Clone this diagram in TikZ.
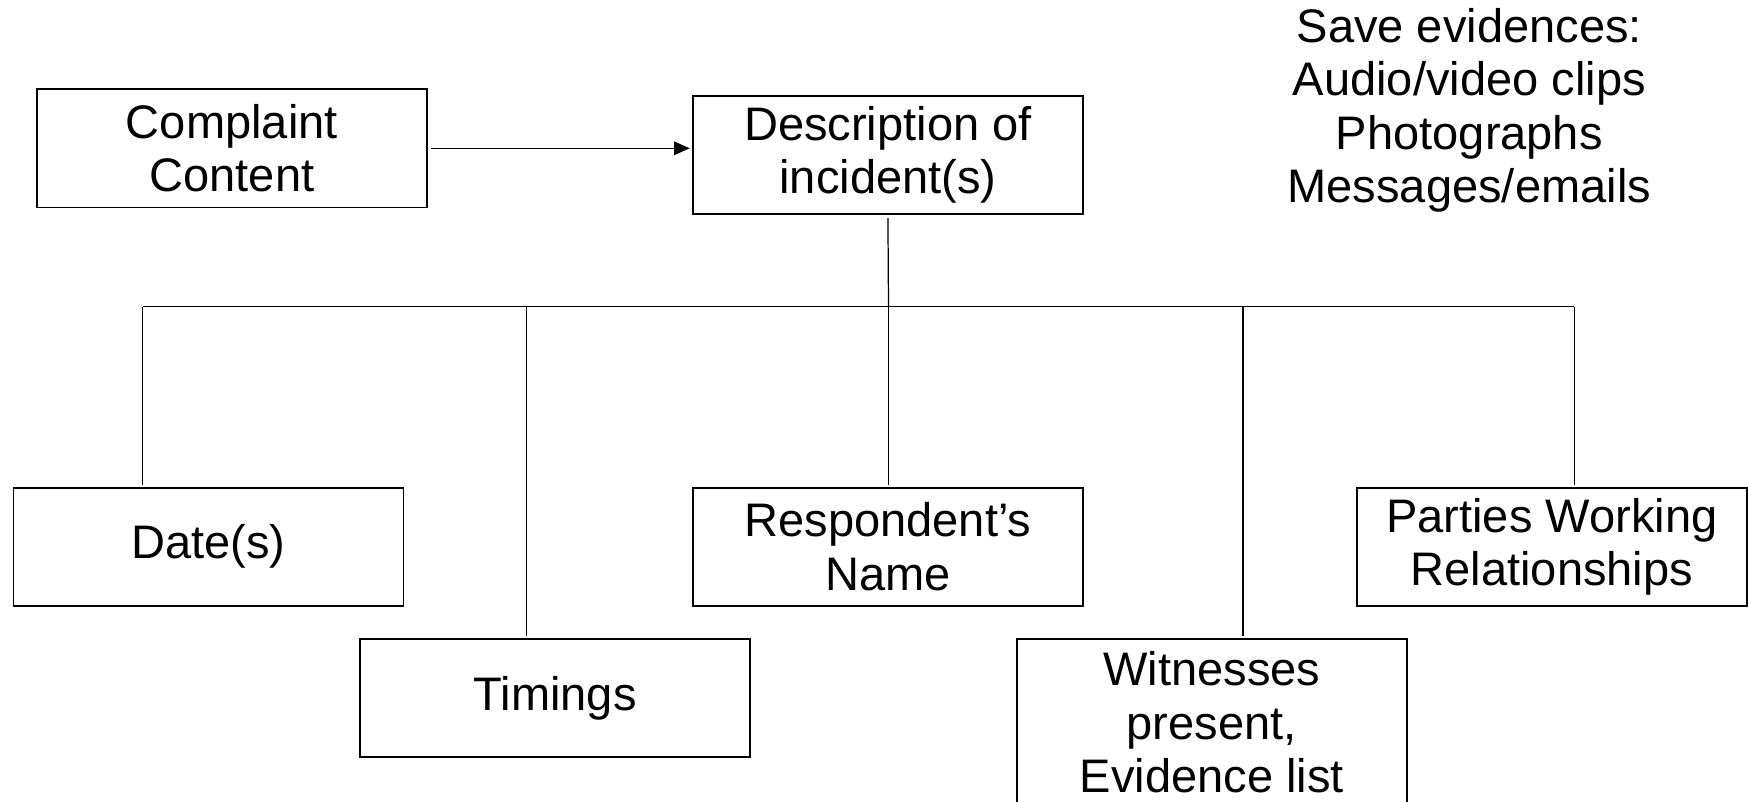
\documentclass[tikz,border=0pt]{standalone}
\usepackage{fontspec}
\setmainfont{Liberation Sans}
\usetikzlibrary{arrows.meta}
\begin{document}
\begin{tikzpicture}[x=0.5pt,y=-0.5pt,
  font=\fontsize{21.1}{24}\selectfont,
  boxnode/.style={draw=black,line width=0.75pt,align=center,inner sep=0pt,
    minimum width=175pt,minimum height=53pt},
  conn/.style={draw=black,line width=0.55pt},
  arr/.style={conn,-{Triangle[length=7pt,width=6pt]}}]
\useasboundingbox (0,0) rectangle (1568,719);
\node[boxnode] (complaint) at (208,133) {Complaint\\Content};
\node[boxnode] (desc) at (796.5,139) {Description of\\incident(s)};
\node[boxnode] (date) at (187,490.5) {Date(s)};
\node[boxnode] (timings) at (498,626) {Timings};
\node[boxnode] (resp) at (796.5,490.5) {Respondent’s\\Name};
\node[boxnode,minimum height=75pt] (wit) at (1087,648) {Witnesses\\present,\\Evidence list};
\node[boxnode] (parties) at (1392,490.5) {Parties Working\\Relationships};
\node[align=center,inner sep=0pt] (save) at (1318,99) {Save evidences:\\Audio/video clips\\Photographs\\Messages/emails};
\coordinate (hub) at (797,275);
\coordinate (b1) at (128,275);
\coordinate (b2) at (472,275);
\coordinate (b3) at (797,275);
\coordinate (b4) at (1115,275);
\coordinate (b5) at (1412,275);
\coordinate (arrend) at (complaint.east -| desc.west);
\draw[arr] ([xshift=1.5pt]complaint.east) -- ([xshift=-1pt]arrend);
\draw[conn] ([yshift=-1.5pt]desc.south) -- (hub);
\draw[conn] (b1) -- (b5);
\draw[conn] (b1) -- ([yshift=1pt]b1 |- date.north);
\draw[conn] (b2) -- ([yshift=1pt]b2 |- timings.north);
\draw[conn] (b3) -- ([yshift=1pt]b3 |- resp.north);
\draw[conn] (b4) -- ([yshift=1pt]b4 |- wit.north);
\draw[conn] (b5) -- ([yshift=1pt]b5 |- parties.north);
\end{tikzpicture}
\end{document}
